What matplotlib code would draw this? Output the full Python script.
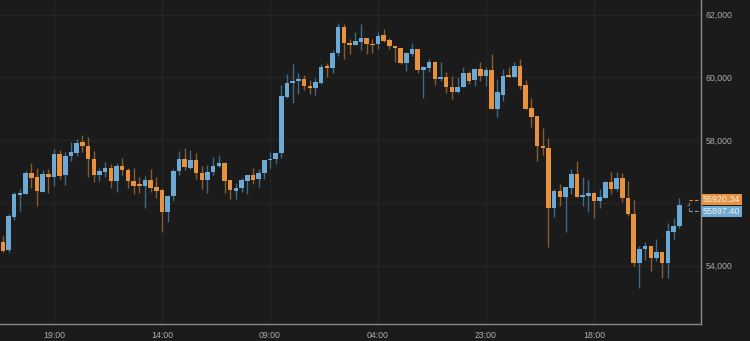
import matplotlib.pyplot as plt
from matplotlib.ticker import FuncFormatter

# hourly candles, oldest first
opens = [54760, 54500, 55540, 56260, 56280, 56940, 56810, 56360, 56910, 56830,
         57550, 56880, 57490, 57600, 57930, 57820, 57390, 56880, 56980, 57120,
         56690, 57170, 57060, 56700, 56580, 56550, 56720, 56500, 56400, 55700,
         56220, 57000, 57390, 57120, 57370, 56960, 56730, 56970, 57180, 57260,
         56720, 56380, 56480, 56700, 56900, 56760, 56940, 57360, 57390, 57580,
         59370, 59810, 59890, 59950, 59740, 59650, 59830, 60340, 60310, 60770,
         61600, 61110, 61040, 61140, 61250, 61080, 61060, 61350, 61190, 61000,
         60950, 60450, 60760, 60920, 60240, 60310, 60480, 59940, 60000, 59690,
         59530, 59700, 60140, 59920, 60260, 60060, 60240, 58980, 59440, 60080,
         60020, 60370, 59760, 59010, 58770, 57820, 57760, 55840, 56390, 56180,
         56460, 56910, 56200, 56230, 56300, 56070, 56150, 56660, 56430, 56780,
         56150, 55650, 54090, 54520, 54620, 54250, 54430, 54070, 55080, 55270]
highs = [54940, 55630, 56360, 56440, 57020, 57260, 57100, 57050, 57070, 57720,
         57690, 57610, 57930, 58040, 58160, 58090, 57650, 57100, 57290, 57230,
         57260, 57440, 57120, 57120, 56830, 56860, 57070, 56830, 56460, 56250,
         57080, 57650, 57750, 57690, 57580, 57180, 57210, 57450, 57530, 57310,
         56720, 56620, 56780, 56900, 57100, 57070, 57380, 57630, 57600, 59750,
         60110, 60420, 60150, 60080, 59920, 59970, 60430, 60450, 60880, 61750,
         61700, 61220, 61450, 61700, 61270, 61220, 61440, 61540, 61270, 61000,
         60950, 60820, 61110, 60920, 60370, 60590, 60520, 60480, 60160, 60050,
         60000, 60340, 60210, 60290, 60480, 60340, 60740, 59950, 60260, 60320,
         60480, 60590, 59920, 59330, 58770, 58400, 58060, 56430, 56590, 56510,
         57080, 57330, 56810, 56730, 56360, 56430, 56700, 56970, 56970, 56940,
         56710, 56090, 54620, 54760, 54620, 54850, 54430, 55350, 55510, 56140]
lows = [54440, 54440, 55450, 55750, 56270, 56460, 55900, 56350, 56300, 56550,
        56760, 56570, 57340, 57500, 57630, 56830, 56660, 56700, 56830, 56460,
        56350, 56890, 56460, 56280, 56300, 55830, 56350, 56160, 55060, 55380,
        56070, 56890, 57050, 57070, 56750, 56430, 56320, 56890, 57150, 56320,
        56110, 56110, 56340, 56280, 56590, 56510, 56760, 57100, 57250, 57440,
        59330, 59190, 59470, 59600, 59470, 59440, 59790, 60000, 60150, 60680,
        60580, 60740, 61030, 60880, 60740, 60790, 60900, 61140, 60910, 60500,
        60430, 60220, 60680, 60130, 59350, 60180, 59760, 59900, 59490, 59300,
        59490, 59690, 59790, 59730, 59890, 59740, 58980, 58750, 59260, 60020,
        60020, 59630, 58980, 58410, 57340, 57520, 54580, 55560, 55910, 55080,
        56280, 56200, 55910, 55720, 55530, 55840, 56140, 56270, 56380, 56020,
        55590, 53990, 53270, 54180, 53840, 54150, 53590, 53610, 54840, 55190]
closes = [54460, 55580, 56280, 56310, 56940, 56780, 56380, 56910, 56830, 57550,
          56860, 57500, 57610, 57910, 57810, 57390, 56880, 57010, 57120, 56700,
          57170, 57060, 56700, 56550, 56550, 56720, 56460, 56380, 55720, 56230,
          57020, 57390, 57150, 57370, 56940, 56730, 56970, 57180, 57260, 56700,
          56400, 56480, 56720, 56900, 56730, 56960, 57380, 57410, 57600, 59410,
          59830, 59900, 59950, 59740, 59650, 59850, 60340, 60310, 60790, 61600,
          61090, 61040, 61160, 61250, 61060, 61040, 61330, 61170, 61000, 60950,
          60450, 60770, 60920, 60240, 60320, 60480, 59940, 60000, 59690, 59540,
          59700, 60140, 59900, 60260, 60060, 60240, 58980, 59530, 60060, 60020,
          60370, 59740, 58980, 58750, 57810, 57760, 55840, 56390, 56200, 56500,
          56910, 56200, 56240, 56300, 56070, 56190, 56660, 56430, 56780, 56140,
          55640, 54090, 54530, 54620, 54250, 54430, 54090, 55100, 55270, 55930]

tick_pos = [9, 28, 47, 66, 85, 104]
tick_labels = ['19:00', '14:00', '09:00', '04:00', '23:00', '18:00']
price_ticks = [54000, 56000, 58000, 60000, 62000]

last_ask = 55920.34
last_bid = 55897.40

BG = '#1b1b1b'
GRID = '#262626'
UP = '#6ca9d4'
DOWN = '#e8913f'
UP_WICK = '#3f6a86'
DOWN_WICK = '#8a5a2c'
TXT = '#ababab'


def plot_candles(ax):
    for i in range(len(opens)):
        up = closes[i] >= opens[i]
        ax.vlines(i, lows[i], highs[i], color=UP_WICK if up else DOWN_WICK,
                  linewidth=1.0, zorder=2)
        bottom = min(opens[i], closes[i])
        height = max(abs(closes[i] - opens[i]), 40)
        ax.bar(i, height, bottom=bottom, width=0.8, color=UP if up else DOWN,
               edgecolor='none', zorder=3)


def price_fmt(v, p):
    # the 56,000 label sits under the live price tags, so it is left blank
    if abs(v - last_ask) < 400:
        return ''
    return f"{int(v):,}"


def main():
    plt.rcParams['font.family'] = ['Liberation Sans', 'DejaVu Sans']
    fig = plt.figure(figsize=(7.5, 3.41), dpi=100, facecolor=BG)
    ax = fig.add_axes([0, 17 / 341, 701 / 750, 324 / 341])
    ax.set_facecolor(BG)

    plot_candles(ax)

    ax.set_xlim(-0.5, 122.83)
    ax.set_ylim(52134, 62470)

    ax.set_xticks(tick_pos)
    ax.set_xticklabels(tick_labels)
    ax.set_yticks(price_ticks)
    ax.yaxis.set_major_formatter(FuncFormatter(price_fmt))
    ax.yaxis.tick_right()
    ax.tick_params(axis='both', length=0, colors=TXT, labelsize=6.3)
    ax.tick_params(axis='x', pad=5)
    ax.tick_params(axis='y', pad=3)
    ax.grid(True, color=GRID, linewidth=0.8)
    ax.set_axisbelow(True)

    for side in ['top', 'left']:
        ax.spines[side].set_visible(False)
    for side in ['bottom', 'right']:
        ax.spines[side].set_color('#8c8c8c')
        ax.spines[side].set_linewidth(1.0)

    # dashed box for the live candle
    n = len(closes)
    px = 31.9  # price per pixel
    ask_y = last_ask + 5.8 * px
    bid_y = last_bid - 5.3 * px
    ax.hlines(ask_y, n + 0.8, 122.83, color=DOWN, linestyle=(0, (3, 2)), linewidth=0.8)
    ax.hlines(bid_y, n + 0.8, 122.83, color=UP, linestyle=(0, (3, 2)), linewidth=0.8)
    ax.vlines(n + 0.8, bid_y, ask_y, color='#777777', linestyle=(0, (3, 2)), linewidth=0.8)
    ax.hlines(last_ask, n + 0.3, n + 0.8, color='#777777', linewidth=0.8)

    ax.annotate(f"{last_ask:.2f}", xy=(1, last_ask), xycoords=('axes fraction', 'data'),
                xytext=(1.5, 4.4), textcoords='offset points', va='center', ha='left',
                fontsize=6.4, color='#f4f4f4', zorder=6, annotation_clip=False,
                bbox=dict(boxstyle='square,pad=0.12', facecolor=DOWN, edgecolor='none'))
    ax.annotate(f"{last_bid:.2f}", xy=(1, last_bid), xycoords=('axes fraction', 'data'),
                xytext=(1.5, -4.0), textcoords='offset points', va='center', ha='left',
                fontsize=6.4, color='#f4f4f4', zorder=6, annotation_clip=False,
                bbox=dict(boxstyle='square,pad=0.12', facecolor=UP, edgecolor='none'))

    fig.savefig('out.png', dpi=100, facecolor=BG)
    plt.close(fig)


if __name__ == "__main__":
    main()
